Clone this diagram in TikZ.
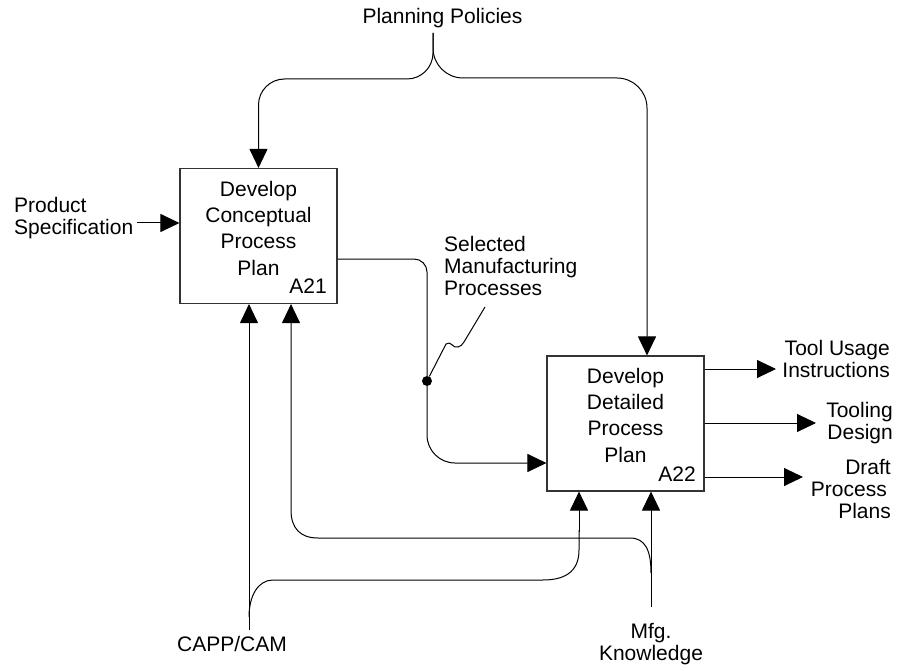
\documentclass[tikz,border=0pt]{standalone}
\usepackage{fontspec}
\setmainfont{Liberation Sans}
\usetikzlibrary{arrows.meta}
\begin{document}
\begin{tikzpicture}[x=1pt,y=-1pt,
  every node/.style={inner sep=0pt, font=\fontsize{21}{22}\selectfont},
  actbox/.style={draw, line width=1.1pt, draw=black!80, minimum width=157pt, minimum height=135pt},
  boxtext/.style={align=center, font=\fontsize{21}{26.2}\selectfont},
  lbl/.style={align=left},
  rlbl/.style={align=right},
  clbl/.style={align=center},
  link/.style={line width=1pt},
  flow/.style={line width=1pt, -{Triangle[length=19pt,width=18pt]}},
  dotnode/.style={circle, fill, minimum size=10pt}]
\useasboundingbox (0,0) rectangle (902,671);

% activity boxes
\node[actbox] (a21) at (258.5,236) {};
\node[boxtext, anchor=north] (a21t) at (258.5,181) {Develop\\Conceptual\\Process\\Plan};
\node[anchor=base east] (a21n) at (327,293) {A21};

\node[actbox] (a22) at (625.5,423.5) {};
\node[boxtext, anchor=north] (a22t) at (625.5,368) {Develop\\Detailed\\Process\\Plan};
\node[anchor=base east] (a22n) at (696,481) {A22};

% control: planning policies, split into two branches
\node[anchor=base] (pp) at (442.5,24) {Planning Policies};
\coordinate (ppin) at (433,33);
\draw[flow, rounded corners=26pt] (ppin) -- (433,79) -- (a21.north |- 0,79) -- (a21.north);
\draw[flow, rounded corners=30pt] (ppin) -- (433,78) -- (647,78) -- (a22.north -| 647,0);

% input: product specification
\node[lbl, anchor=north west] (ps) at (14,196.7) {Product\\Specification};
\coordinate (psin) at (137,223);
\draw[flow] (psin) -- (psin -| a21.west);

% selected manufacturing processes between the two activities
\node[dotnode] (dot) at (427,381) {};
\draw[link, rounded corners=13pt] (a21.east |- 0,259) -- (427,259) -- (dot);
\draw[flow, rounded corners=28pt] (dot) -- (427,463) -- (a22.west |- 0,463);
\node[lbl, anchor=north west] (smpl) at (444,235.7) {Selected\\Manufacturing\\Processes};
\coordinate (smp) at (485,307);
\draw[link] (dot) -- (446,344) .. controls (451,340) and (453,349) .. (458,347)
  .. controls (461,346) and (462,345) .. (464,342) -- (smp);

% outputs of A22
\coordinate (o1) at (776,369);
\coordinate (o2) at (816,423);
\coordinate (o3) at (803,477);
\draw[flow] (a22.east |- o1) -- (o1);
\draw[flow] (a22.east |- o2) -- (o2);
\draw[flow] (a22.east |- o3) -- (o3);
\node[rlbl, anchor=north east] (o1l) at (890,339.7) {Tool Usage\\Instructions};
\node[rlbl, anchor=north east] (o2l) at (893,401.7) {Tooling\\Design};
\node[rlbl, anchor=north east] (o3l) at (891,458.7) {Draft\\Process\kern4pt\\Plans};

% mechanism: CAPP/CAM
\node[anchor=base] (capp) at (232,651) {CAPP/CAM};
\coordinate (cappin) at (249,630);
\draw[flow] (cappin) -- (a21.south -| 249,0);
\draw[link] (249,617) .. controls (249,596) and (258,580) .. (273,580) -- (543,580)
  .. controls (563,580) and (579,573) .. (579,550) -- (579,530);
\draw[flow] (579,532) -- (a22.south -| 579,0);

% mechanism: manufacturing knowledge
\node[clbl, anchor=north] (mfg) at (651,622.7) {Mfg.\\Knowledge};
\coordinate (mfgin) at (651,607);
\draw[flow] (mfgin) -- (a22.south -| 651,0);
\draw[flow] (651,573) .. controls (651,550) and (645,538) .. (630,538) -- (318,538)
  .. controls (300,538) and (291,528) .. (291,510) -- (a21.south -| 291,0);
\end{tikzpicture}
\end{document}
